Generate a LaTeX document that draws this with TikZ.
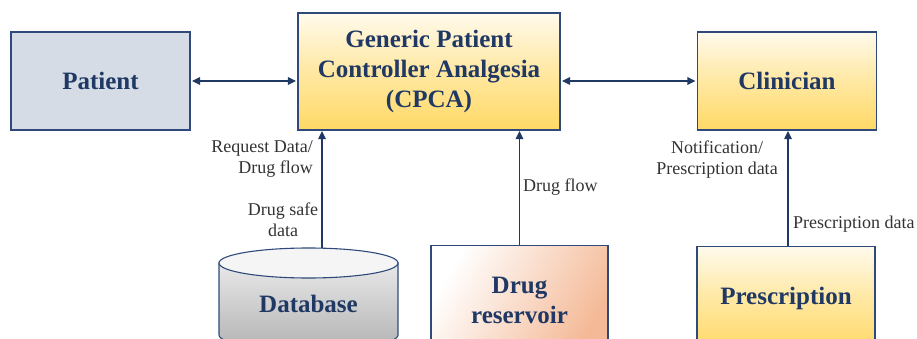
\documentclass[tikz,border=0pt]{standalone}
\usepackage{fontspec}
\setmainfont{Liberation Serif}
\usetikzlibrary{arrows.meta}

\definecolor{navy}{HTML}{1F3864}
\definecolor{edge}{HTML}{2F4A7A}
\definecolor{slate}{HTML}{D6DCE5}
\definecolor{gold}{HTML}{FFD966}
\definecolor{cream}{HTML}{FFFAEC}
\definecolor{peach}{HTML}{F4B996}
\definecolor{labelgray}{HTML}{333333}

\tikzset{
  title/.style={font=\rmfamily\fontsize{25}{30}\selectfont\bfseries, text=navy, align=center},
  box/.style={title, draw=edge, line width=1.1pt, minimum width=179pt},
  goldbox/.style={box, top color=cream, bottom color=gold, middle color=gold!55!cream},
  flow/.style={draw=navy, line width=1.1pt,
    -{Triangle[length=8pt,width=7.5pt]}},
  bothflow/.style={flow, {Triangle[length=8pt,width=7.5pt]}-{Triangle[length=8pt,width=7.5pt]}},
  lbl/.style={font=\rmfamily\fontsize{18}{21}\selectfont, text=labelgray, inner sep=0pt}
}

\begin{document}
\begin{tikzpicture}[x=1pt, y=-1pt]
  \useasboundingbox (0,0) rectangle (917,339);
  \clip (0,0) rectangle (917,339);

  % top row
  \node[box, fill=slate, minimum height=98pt] (patient) at (100.5,81) {Patient};
  \node[goldbox, minimum width=262pt, minimum height=117pt] (cpca) at (429,71.5)
    {Generic Patient\\Controller Analgesia\\(CPCA)};
  \node[goldbox, minimum height=98pt] (clinician) at (787,81) {Clinician};

  % database cylinder
  \shade[top color=gray!18, bottom color=gray!60, draw=edge, line width=1.1pt]
    (219,263) -- (219,335) arc[start angle=180, end angle=360, x radius=89.5pt, y radius=15pt]
    -- (398,263) -- cycle;
  \filldraw[fill=gray!8, draw=edge, line width=1.1pt] (308.5,263) ellipse [x radius=89.5pt, y radius=15pt];
  \node[title] (database) at (308.5,304) {Database};
  \coordinate (dbtop) at (322,248);

  % bottom boxes
  \node[box, anchor=north, minimum width=177pt, minimum height=110pt,
    left color=white, right color=peach, shading angle=60] (reservoir) at (519.5,245) {Drug\\reservoir};
  \node[goldbox, anchor=north, minimum width=178pt, minimum height=104pt] (prescription) at (786,246) {Prescription};
  \coordinate (prtop) at (788,246);

  % connectors
  \draw[bothflow, shorten <=1.5pt, shorten >=1.5pt] (patient.east) -- (patient.east -| cpca.west);
  \draw[bothflow, shorten <=1.5pt, shorten >=1.5pt] (clinician.west -| cpca.east) -- (clinician.west);
  \draw[flow, shorten >=0.5pt] (dbtop) -- (dbtop |- cpca.south);
  \draw[flow, shorten >=0.5pt] (reservoir.north) -- (reservoir.north |- cpca.south);
  \draw[flow, shorten >=0.5pt] (prtop) -- (prtop |- clinician.south);

  % connector labels
  \node[lbl, align=right, anchor=east] (reqlbl) at (313,159.5) {Request Data/\\Drug flow};
  \node[lbl, align=center] (safelbl) at (283,220) {Drug safe\\data};
  \node[lbl, anchor=west] (flowlbl) at (523,187) {Drug flow};
  \node[lbl, align=center] (notelbl) at (717,160) {Notification/\\Prescription data};
  \node[lbl, anchor=west] (presclbl) at (793,224) {Prescription data};
\end{tikzpicture}
\end{document}
